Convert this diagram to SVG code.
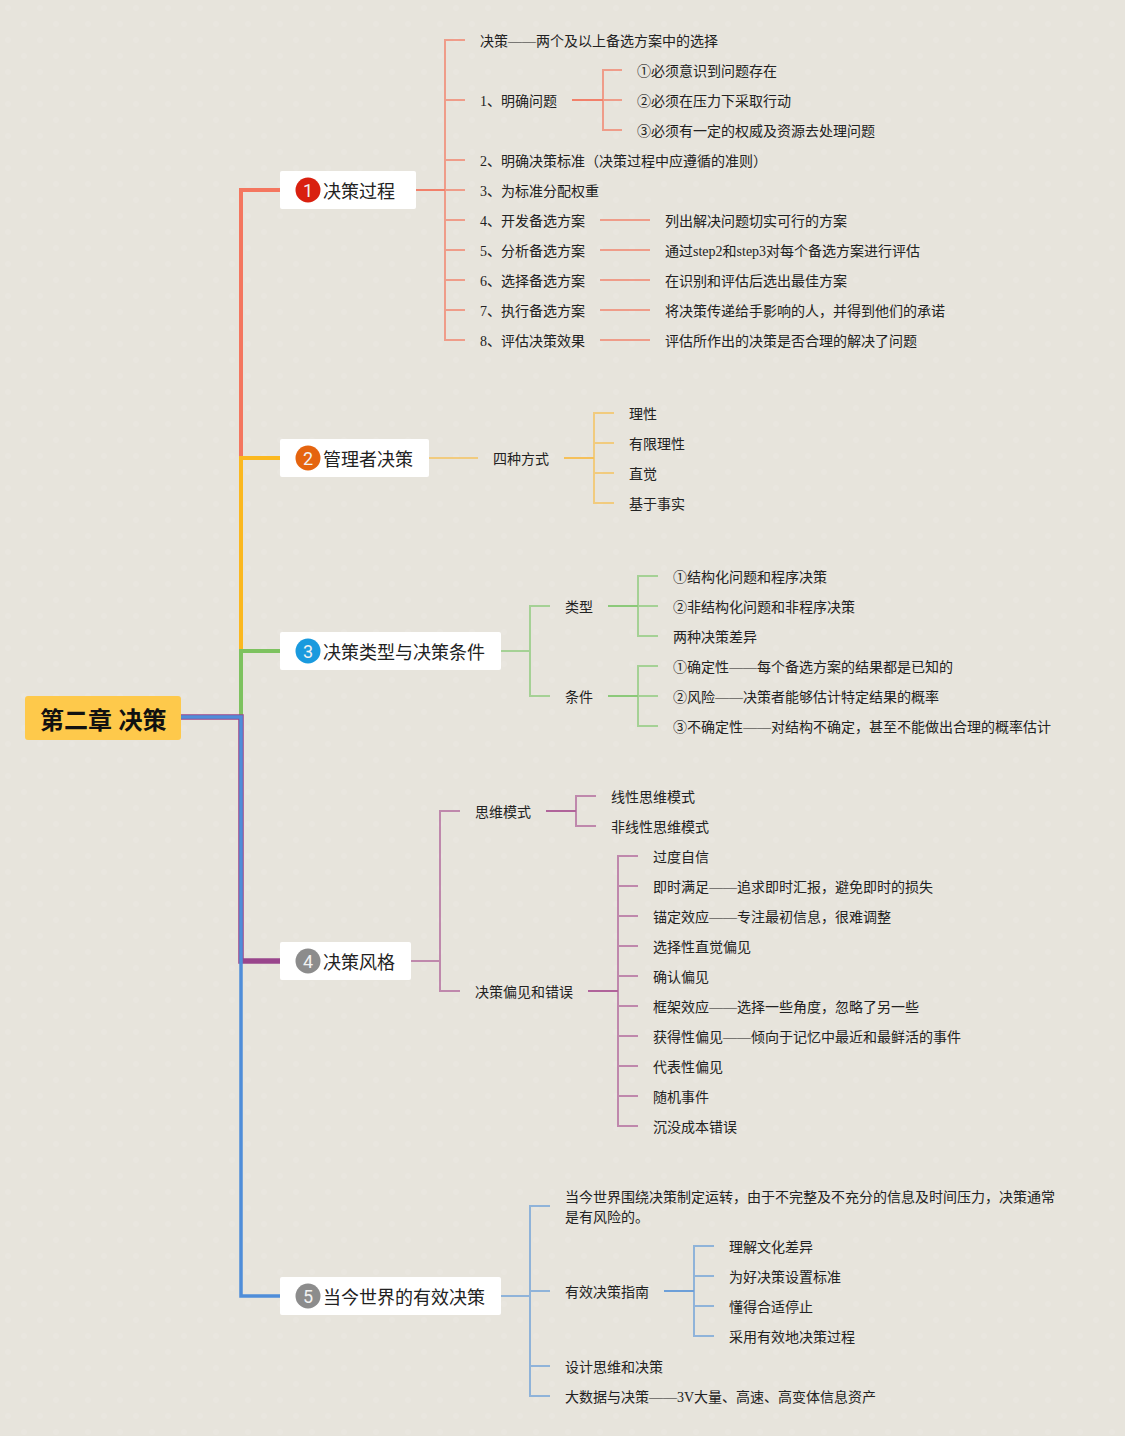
<svg xmlns="http://www.w3.org/2000/svg" width="1125" height="1436" viewBox="0 0 1125 1436">
<style>
text{font-family:"Liberation Serif","Noto Sans CJK SC","Noto Sans CJK JP",sans-serif;font-size:14px;fill:#222;dominant-baseline:central}
.t{font-family:"Noto Sans CJK SC",sans-serif;font-size:18px;fill:#222}
.n{font-family:"Roboto",sans-serif;font-weight:400;font-size:18px;fill:#f2f2f2;text-anchor:middle}
.box{fill:#fff}
path{fill:none}
.l{stroke-width:2;opacity:.72}
.m{stroke-width:2;opacity:1}
.top{stroke-width:4;stroke-linejoin:miter}
.r{stroke:#f2806a}.y{stroke:#f5c05a}.g{stroke:#8cc97a}.p{stroke:#b0649a}.b{stroke:#6d9fd8}
</style>
<defs><pattern id="dots" width="32" height="32" patternUnits="userSpaceOnUse"><circle cx="8" cy="8" r="3" fill="#fff" opacity=".08"/><circle cx="24" cy="24" r="3" fill="#fff" opacity=".08"/></pattern></defs>
<rect width="1125" height="1436" fill="#e7e4dc"/>
<rect width="1125" height="1436" fill="url(#dots)"/>
<g id="connectors">
<path class="top" stroke="#f4765f" d="M280 190H241V458"/>
<path class="top" stroke="#fbb81f" d="M280 458H241V651"/>
<path class="top" stroke="#7dc25f" d="M280 651H241V717"/>
<path class="top" stroke="#99458c" style="stroke-width:5.5" d="M280 961H241V717H181"/>
<path class="top" stroke="#4f8dd9" d="M280 1296H241V717H181" style="stroke-width:3.5"/>
<path class="m r" d="M416 190H445"/>
<path class="l r" d="M465 40H445V340H465M445 100H465M445 160H465M445 190H465M445 220H465M445 250H465M445 280H465M445 310H465"/>
<path class="m r" d="M572 100H603"/>
<path class="l r" d="M622 70H603V130H622M603 100H622"/>
<path class="l r" d="M600 220H650M600 250H650M600 280H650M600 310H650M600 340H650"/>
<path class="l y" d="M429 458H478"/>
<path class="m y" d="M564 458H594"/>
<path class="l y" d="M614 413H594V503H614M594 443H614M594 473H614"/>
<path class="l g" d="M501 651H530M550 606H530V696H550"/>
<path class="m g" d="M608 606H638M608 696H638"/>
<path class="l g" d="M658 576H638V636H658M638 606H658M658 666H638V726H658M638 696H658"/>
<path class="l p" d="M411 961H440M460 811H440V991H460"/>
<path class="m p" d="M546 811H576M588 991H618"/>
<path class="l p" d="M596 796H576V826H596M638 856H618V1126H638M618 886H638M618 916H638M618 946H638M618 976H638M618 1006H638M618 1036H638M618 1066H638M618 1096H638"/>
<path class="l b" d="M501 1296H530M550 1206H530V1396H550M530 1291H550M530 1366H550"/>
<path class="m b" d="M664 1291H694"/>
<path class="l b" d="M714 1246H694V1336H714M694 1276H714M694 1306H714"/>
</g>
<g id="root"><rect x="25" y="696" width="156" height="44" rx="3" fill="#fec94b"/><text x="40" y="718" style="font-family:'Noto Sans CJK SC',sans-serif;font-size:24px;font-weight:700;fill:#111;word-spacing:1px">第二章 决策</text></g>
<g id="topic1"><rect class="box" x="280" y="171" width="136" height="38" rx="2"/><circle cx="308" cy="190" r="12.5" fill="#d9200f"/><text class="n" x="308" y="190">1</text><text class="t" x="323" y="190">决策过程</text></g>
<g id="topic2"><rect class="box" x="280" y="439" width="149" height="38" rx="2"/><circle cx="308" cy="458" r="12.5" fill="#e5640f"/><text class="n" x="308" y="458">2</text><text class="t" x="323" y="458">管理者决策</text></g>
<g id="topic3"><rect class="box" x="280" y="632" width="221" height="38" rx="2"/><circle cx="308" cy="651" r="12.5" fill="#1a9ade"/><text class="n" x="308" y="651">3</text><text class="t" x="323" y="651">决策类型与决策条件</text></g>
<g id="topic4"><rect class="box" x="280" y="942" width="131" height="38" rx="2"/><circle cx="308" cy="961" r="12.5" fill="#8c8c8c"/><text class="n" x="308" y="961">4</text><text class="t" x="323" y="961">决策风格</text></g>
<g id="topic5"><rect class="box" x="280" y="1277" width="221" height="38" rx="2"/><circle cx="308" cy="1296" r="12.5" fill="#8c8c8c"/><text class="n" x="308" y="1296">5</text><text class="t" x="323" y="1296">当今世界的有效决策</text></g>
<g id="labels1">
<text x="480" y="41">决策——两个及以上备选方案中的选择</text>
<text x="480" y="101">1、明确问题</text>
<text x="637" y="71">①必须意识到问题存在</text>
<text x="637" y="101">②必须在压力下采取行动</text>
<text x="637" y="131">③必须有一定的权威及资源去处理问题</text>
<text x="480" y="161">2、明确决策标准（决策过程中应遵循的准则）</text>
<text x="480" y="191">3、为标准分配权重</text>
<text x="480" y="221">4、开发备选方案</text>
<text x="480" y="251">5、分析备选方案</text>
<text x="480" y="281">6、选择备选方案</text>
<text x="480" y="311">7、执行备选方案</text>
<text x="480" y="341">8、评估决策效果</text>
<text x="665" y="221">列出解决问题切实可行的方案</text>
<text x="665" y="251">通过step2和step3对每个备选方案进行评估</text>
<text x="665" y="281">在识别和评估后选出最佳方案</text>
<text x="665" y="311">将决策传递给手影响的人，并得到他们的承诺</text>
<text x="665" y="341">评估所作出的决策是否合理的解决了问题</text>
</g>
<g id="labels2">
<text x="493" y="459">四种方式</text>
<text x="629" y="414">理性</text>
<text x="629" y="444">有限理性</text>
<text x="629" y="474">直觉</text>
<text x="629" y="504">基于事实</text>
</g>
<g id="labels3">
<text x="565" y="607">类型</text>
<text x="565" y="697">条件</text>
<text x="673" y="577">①结构化问题和程序决策</text>
<text x="673" y="607">②非结构化问题和非程序决策</text>
<text x="673" y="637">两种决策差异</text>
<text x="673" y="667">①确定性——每个备选方案的结果都是已知的</text>
<text x="673" y="697">②风险——决策者能够估计特定结果的概率</text>
<text x="673" y="727">③不确定性——对结构不确定，甚至不能做出合理的概率估计</text>
</g>
<g id="labels4">
<text x="475" y="812">思维模式</text>
<text x="475" y="992">决策偏见和错误</text>
<text x="611" y="797">线性思维模式</text>
<text x="611" y="827">非线性思维模式</text>
<text x="653" y="857">过度自信</text>
<text x="653" y="887">即时满足——追求即时汇报，避免即时的损失</text>
<text x="653" y="917">锚定效应——专注最初信息，很难调整</text>
<text x="653" y="947">选择性直觉偏见</text>
<text x="653" y="977">确认偏见</text>
<text x="653" y="1007">框架效应——选择一些角度，忽略了另一些</text>
<text x="653" y="1037">获得性偏见——倾向于记忆中最近和最鲜活的事件</text>
<text x="653" y="1067">代表性偏见</text>
<text x="653" y="1097">随机事件</text>
<text x="653" y="1127">沉没成本错误</text>
</g>
<g id="labels5">
<text x="565" y="1197">当今世界围绕决策制定运转，由于不完整及不充分的信息及时间压力，决策通常</text>
<text x="565" y="1217">是有风险的。</text>
<text x="565" y="1292">有效决策指南</text>
<text x="729" y="1247">理解文化差异</text>
<text x="729" y="1277">为好决策设置标准</text>
<text x="729" y="1307">懂得合适停止</text>
<text x="729" y="1337">采用有效地决策过程</text>
<text x="565" y="1367">设计思维和决策</text>
<text x="565" y="1397">大数据与决策——3V大量、高速、高变体信息资产</text>
</g>
</svg>
